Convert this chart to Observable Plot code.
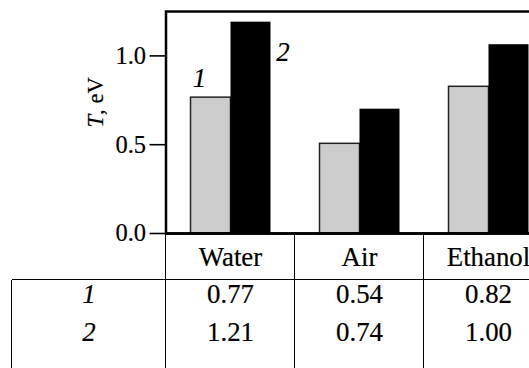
<!DOCTYPE html>
<html><head><meta charset="utf-8">
<script src="https://cdn.jsdelivr.net/npm/d3@7"></script>
<script src="https://cdn.jsdelivr.net/npm/@observablehq/plot@0.6"></script>
<style>
html,body{margin:0;padding:0;background:#fff;overflow:hidden;width:529px;height:368px;}
#wrap{position:relative;width:529px;height:368px;overflow:hidden;}
#wrap svg{position:absolute;left:0;top:0;max-width:none !important;width:560px !important;height:234px !important;}
#wrap svg text{stroke:#000;stroke-width:0.2px;}
.cell{position:absolute;text-align:center;line-height:28px;height:28px;color:#000;white-space:nowrap;-webkit-text-stroke:0.2px #000;}
.vl{position:absolute;width:0;border-left:1.3px solid #000;}
.hl{position:absolute;height:0;border-top:1.3px solid #000;}
</style></head><body><div id="wrap"></div>
<script>
// ---- data ----
const categories = ["Water", "Air", "Ethanol"];
const seriesNames = ["1", "2"];
const barValues1 = [0.765, 0.505, 0.826];   // heights of grey bars (series 1)
const barValues2 = [1.19, 0.70, 1.063];     // heights of black bars (series 2)
const tableRow1 = ["0.77", "0.54", "0.82"];
const tableRow2 = ["1.21", "0.74", "1.00"];
const yTicks = [0, 0.5, 1.0];
const yLabel = "T, eV";

const data = categories.map((c, i) => ({cat: c, v1: barValues1[i], v2: barValues2[i]}));

// ---- font & sizes fitted to the reference text widths ----
const FONT = '"Liberation Serif", Tinos, "Times New Roman", "Nimbus Roman", "Nimbus Roman No9 L", FreeSerif, "Noto Serif", "DejaVu Serif", serif';
document.getElementById("wrap").style.fontFamily = FONT;
function measure(text, size) {
  const s = document.createElement("span");
  s.style.cssText = "position:absolute;visibility:hidden;white-space:nowrap;font-size:" + size + "px;";
  s.style.fontFamily = FONT;
  s.textContent = text;
  document.body.appendChild(s);
  const w = s.getBoundingClientRect().width;
  s.remove();
  return w;
}
const tableSize = 40 * 63.4 / measure(categories[0], 40);
const tickFont = 40 * 30.6 / measure("1.0", 40);
const labelFont = 40 * 50 / measure(yLabel, 40);

// ---- layout ----
const W = 560, mL = 165.5, mR = 7.5, mT = 11, mB = 1, H = 234;
const bw = (W - mL - mR) / categories.length;
const pair = 80;
const outer = (bw - pair) / 2, inner = bw / 2;

const chart = Plot.plot({
  width: W, height: H,
  marginLeft: mL, marginRight: mR, marginTop: mT, marginBottom: mB,
  style: {fontFamily: FONT, fontSize: tickFont + "px", color: "#000", background: "transparent", overflow: "visible", maxWidth: "none"},
  x: {domain: categories, padding: 0, axis: null},
  y: {domain: [0, 1.25], axis: null},
  marks: [
    Plot.barY(data, {x: "cat", y: "v1", fill: "#cccccc", stroke: "#222", strokeWidth: 1.5, insetLeft: outer, insetRight: inner}),
    Plot.barY(data, {x: "cat", y: "v2", fill: "#000", insetLeft: inner, insetRight: outer}),
    Plot.text(data.slice(0, 1), {x: "cat", y: "v1", text: () => seriesNames[0], fontStyle: "italic", fontSize: tableSize, dx: -31.5, dy: -19}),
    Plot.text(data.slice(0, 1), {x: "cat", y: "v2", text: () => seriesNames[1], fontStyle: "italic", fontSize: tableSize, dx: 52, dy: 30}),
    Plot.axisY(yTicks, {tickSize: 16, tickPadding: 4, tickFormat: d3.format(".1f"), fontSize: tickFont, strokeWidth: 1.6, label: null}),
    Plot.text([yLabel], {frameAnchor: "left", rotate: -90, dx: -70, dy: 5, fontSize: labelFont}),
    Plot.frame({stroke: "#000", strokeWidth: 2.5}),
    Plot.ruleY([0], {stroke: "#000", strokeWidth: 2.5})
  ]
});

const wrap = document.getElementById("wrap");
wrap.appendChild(chart);

// italic T in the axis label
chart.querySelectorAll("text").forEach(t => {
  if (t.textContent === yLabel) {
    t.textContent = "";
    const ns = "http://www.w3.org/2000/svg";
    const a = document.createElementNS(ns, "tspan"); a.setAttribute("font-style", "italic"); a.textContent = yLabel.slice(0, 1);
    const b = document.createElementNS(ns, "tspan"); b.textContent = yLabel.slice(1);
    t.appendChild(a); t.appendChild(b);
  }
});

// ---- table under the chart, aligned to the x scale ----
const xs = chart.scale("x");
const ys = chart.scale("y");
const top0 = ys.apply(0);
const headerH = 47, rowGap = 38, tableLeft = 11.7;
const rowTop = top0 + headerH;
const bottom = 400;

function div(cls, styles, text) {
  const d = document.createElement("div");
  d.className = cls;
  d.style.fontFamily = FONT;
  d.style.fontSize = tableSize + "px";
  Object.assign(d.style, styles);
  if (text != null) d.textContent = text;
  wrap.appendChild(d);
  return d;
}

const colLefts = categories.map(c => xs.apply(c));
const step = xs.bandwidth;
colLefts.concat([colLefts[colLefts.length - 1] + step]).forEach(x => {
  div("vl", {left: (x - 0.65) + "px", top: top0 + "px", height: (bottom - top0) + "px"});
});
div("vl", {left: (tableLeft - 0.65) + "px", top: rowTop + "px", height: (bottom - rowTop) + "px"});
div("hl", {left: tableLeft + "px", top: (rowTop - 0.65) + "px", width: (W - tableLeft) + "px"});

categories.forEach((c, i) => {
  div("cell", {left: colLefts[i] + "px", width: step + "px", top: (top0 + headerH / 2 - 14) + "px"}, c);
});
[tableRow1, tableRow2].forEach((row, r) => {
  const cy = rowTop + 14 + r * rowGap;
  div("cell", {left: tableLeft + "px", width: (colLefts[0] - tableLeft) + "px", top: (cy - 14) + "px", fontStyle: "italic"}, seriesNames[r]);
  row.forEach((v, i) => {
    div("cell", {left: colLefts[i] + "px", width: step + "px", top: (cy - 14) + "px"}, v);
  });
});
</script></body></html>
